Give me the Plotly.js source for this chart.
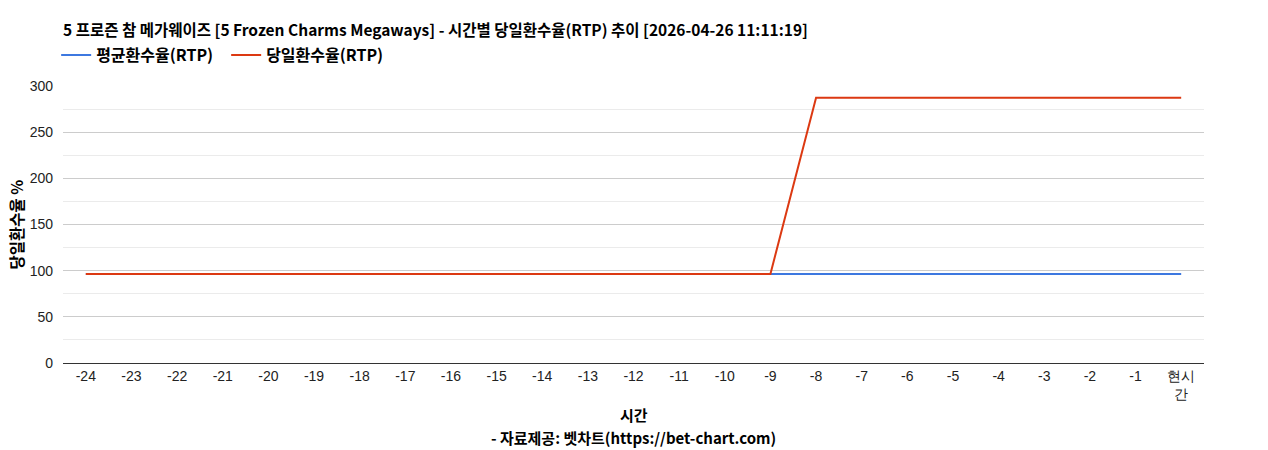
<!DOCTYPE html>
<html>
<head>
<meta charset="utf-8">
<script src="https://cdn.plot.ly/plotly-3.0.1.min.js"></script>
<style>
  html, body { margin: 0; padding: 0; background: #fff; }
  #chart { width: 1268px; height: 450px; }
</style>
</head>
<body>
<div id="chart"></div>
<script>
// hours before now, last one is "now"
const hours = ['-24', '-23', '-22', '-21', '-20', '-19', '-18', '-17', '-16', '-15', '-14', '-13',
  '-12', '-11', '-10', '-9', '-8', '-7', '-6', '-5', '-4', '-3', '-2', '-1', '현시간'];
const hourLabels = ['-24', '-23', '-22', '-21', '-20', '-19', '-18', '-17', '-16', '-15', '-14', '-13',
  '-12', '-11', '-10', '-9', '-8', '-7', '-6', '-5', '-4', '-3', '-2', '-1', '현시<br>간'];

const avgRtp = [96.5, 96.5, 96.5, 96.5, 96.5, 96.5, 96.5, 96.5, 96.5, 96.5, 96.5, 96.5,
  96.5, 96.5, 96.5, 96.5, 96.5, 96.5, 96.5, 96.5, 96.5, 96.5, 96.5, 96.5, 96.5];
const dayRtp = [96.5, 96.5, 96.5, 96.5, 96.5, 96.5, 96.5, 96.5, 96.5, 96.5, 96.5, 96.5,
  96.5, 96.5, 96.5, 96.5, 287.2, 287.2, 287.2, 287.2, 287.2, 287.2, 287.2, 287.2, 287.2];

const tickFont = { family: 'Liberation Sans, Arial, sans-serif', size: 14, color: '#222' };
const boldFont = (size) => ({ family: 'Noto Sans CJK KR, sans-serif', size: size, color: '#000', weight: 'bold' });

const avgTrace = {
    type: 'scatter',
    mode: 'lines',
    name: '평균환수율(RTP)',
    x: hours,
    y: avgRtp,
    line: { color: '#3d78e0', width: 2 }
};
const dayTrace = {
    type: 'scatter',
    mode: 'lines',
    name: '당일환수율(RTP)',
    x: hours,
    y: dayRtp,
    line: { color: '#dc3912', width: 2 }
};

const layout = {
    width: 1268,
    height: 450,
    margin: { t: 86, r: 64, l: 63, b: 87 },
    paper_bgcolor: '#fff',
    plot_bgcolor: '#fff',
    showlegend: true,
    title: {
        text: '5 프로즌 참 메가웨이즈 [5 Frozen Charms Megaways] - 시간별 당일환수율(RTP) 추이 [2026-04-26 11:11:19]',
        font: boldFont(15.5),
        x: 0, xref: 'paper', xanchor: 'left',
        y: 1 - 31 / 450, yref: 'container', yanchor: 'middle'
    },
    legend: {
        orientation: 'h',
        x: -0.006, xanchor: 'left',
        y: 1.112, yanchor: 'middle',
        font: boldFont(16),
        itemwidth: 30,
        entrywidth: 125,
        entrywidthmode: 'pixels',
        tracegroupgap: 0
    },
    xaxis: {
        type: 'category',
        tickvals: hours,
        ticktext: hourLabels,
        range: [-0.5, 24.5],
        showgrid: false,
        showline: true,
        linecolor: '#333',
        linewidth: 1,
        ticks: '',
        tickfont: tickFont,
        fixedrange: true
    },
    yaxis: {
        range: [0, 300],
        dtick: 50,
        showgrid: true,
        gridcolor: '#cccccc',
        zeroline: false,
        ticks: '',
        ticklabelstandoff: 9,
        tickfont: tickFont,
        minor: { dtick: 25, showgrid: true, gridcolor: '#ebebeb' },
        fixedrange: true
    },
    annotations: [
        {
            text: '당일환수율 %', textangle: -90, showarrow: false,
            xref: 'paper', yref: 'paper', x: -48 / 1141, y: 0.5,
            xanchor: 'center', yanchor: 'middle', font: boldFont(15.5)
        },
        {
            text: '시간', showarrow: false,
            xref: 'paper', yref: 'paper', x: 0.5, y: -51 / 277,
            xanchor: 'center', yanchor: 'middle', font: boldFont(15)
        },
        {
            text: '- 자료제공: 벳차트(https://bet-chart.com)', showarrow: false,
            xref: 'paper', yref: 'paper', x: 0.5, y: -74 / 277,
            xanchor: 'center', yanchor: 'middle', font: boldFont(15)
        }
    ]
};

Plotly.newPlot('chart', [avgTrace, dayTrace], layout, { displayModeBar: false, staticPlot: true });
</script>
</body>
</html>
